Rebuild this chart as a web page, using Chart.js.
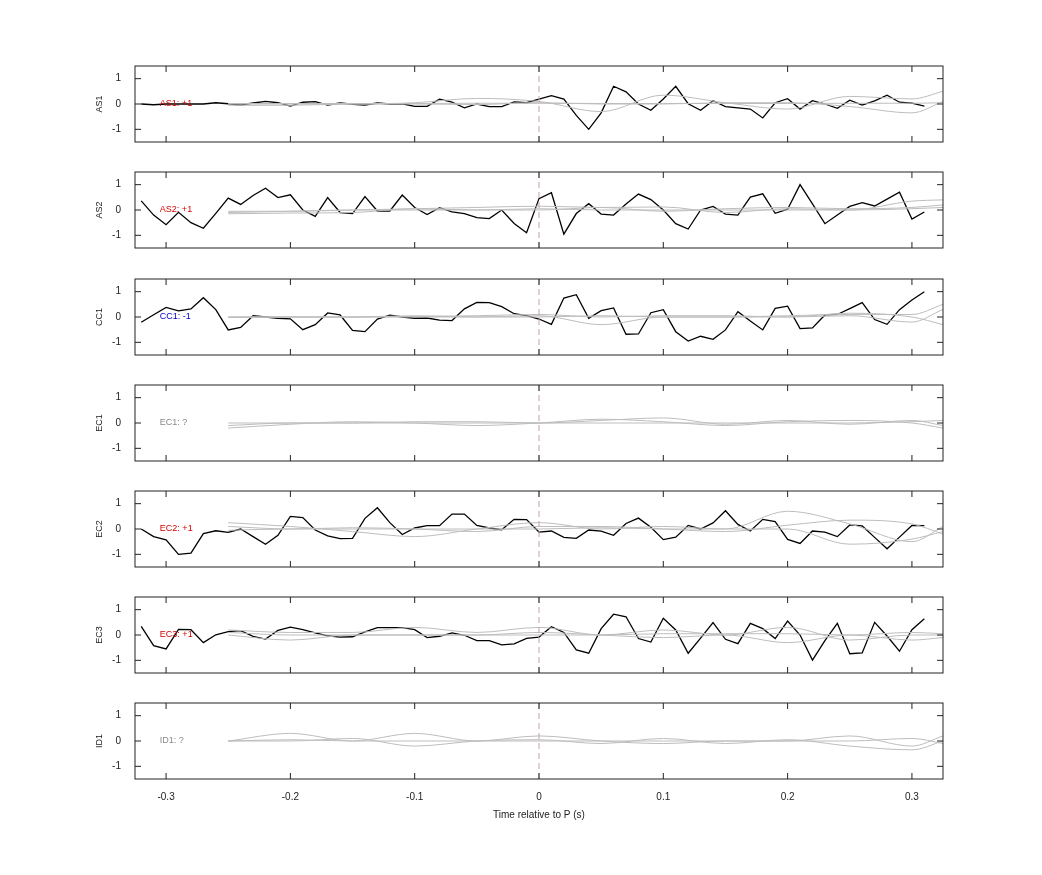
<!DOCTYPE html>
<html>
<head>
<meta charset="utf-8">
<script src="https://cdn.jsdelivr.net/npm/chart.js@4"></script>
<style>
  body { margin: 0; background: #fff; }
  .panel { position: absolute; left: 60px; width: 900px; }
</style>
</head>
<body>
<div id="wrap"></div>
<script>
// 시간축 (black traces, 0.01 s step)
const times = [-0.32,-0.31,-0.30,-0.29,-0.28,-0.27,-0.26,-0.25,-0.24,-0.23,-0.22,-0.21,-0.20,-0.19,-0.18,-0.17,
  -0.16,-0.15,-0.14,-0.13,-0.12,-0.11,-0.10,-0.09,-0.08,-0.07,-0.06,-0.05,-0.04,-0.03,-0.02,-0.01,
  0.00,0.01,0.02,0.03,0.04,0.05,0.06,0.07,0.08,0.09,0.10,0.11,0.12,0.13,0.14,0.15,
  0.16,0.17,0.18,0.19,0.20,0.21,0.22,0.23,0.24,0.25,0.26,0.27,0.28,0.29,0.30,0.31];
// grey template times
const greyTimes = [-0.25,-0.2,-0.15,-0.1,-0.05,0,0.05,0.1,0.15,0.2,0.25,0.3,0.325];

const channels = ["AS1","AS2","CC1","EC1","EC2","EC3","ID1"];
const polarity = ["+1","+1","-1","?","+1","+1","?"];
const xTicks = [-0.3,-0.2,-0.1,0,0.1,0.2,0.3];

const as1 = [0,-0.03,0,0,0,0,0.05,0.01,-0.04,0.04,0.1,0.05,-0.08,0.07,0.09,-0.04,
  0.04,-0.01,-0.04,0.04,0,0.01,-0.09,-0.09,0.19,0.07,-0.15,0,-0.1,-0.1,0.08,0.05,
  0.19,0.33,0.19,-0.45,-1.0,-0.35,0.7,0.48,0,-0.25,0.2,0.7,0.01,-0.25,0.13,-0.1,
  -0.15,-0.2,-0.55,0.05,0.21,-0.2,0.13,0,-0.17,0.15,-0.04,0.12,0.35,0.07,0.03,-0.08];
const as2 = [0.36,-0.2,-0.58,-0.09,-0.5,-0.72,-0.13,0.47,0.22,0.57,0.86,0.49,0.6,0,-0.25,0.49,
  -0.1,-0.14,0.53,-0.04,-0.04,0.59,0.1,-0.18,0.09,-0.07,-0.14,-0.3,-0.34,0,-0.53,-0.9,
  0.45,0.68,-0.95,-0.14,0.25,-0.16,-0.2,0.24,0.63,0.41,0,-0.54,-0.75,0,0.14,-0.16,
  -0.2,0.51,0.64,-0.13,0.03,1.0,0.24,-0.54,-0.2,0.14,0.29,0.16,0.43,0.7,-0.36,-0.08];
const cc1 = [-0.21,0.09,0.38,0.24,0.32,0.76,0.29,-0.51,-0.41,0.05,0,-0.05,-0.07,-0.5,-0.3,0.16,
  0.08,-0.53,-0.58,-0.08,0.07,0,-0.05,-0.04,-0.12,-0.14,0.32,0.58,0.57,0.41,0.13,0.05,
  -0.08,-0.29,0.75,0.88,-0.05,0.25,0.36,-0.68,-0.67,0.17,0.29,-0.58,-0.95,-0.76,-0.88,-0.51,
  0.21,-0.16,-0.51,0.34,0.43,-0.46,-0.43,0.08,0.1,0.33,0.57,-0.1,-0.29,0.29,0.67,1.0];
const ec2 = [0,-0.3,-0.43,-1.0,-0.95,-0.18,-0.07,-0.13,0,-0.3,-0.6,-0.25,0.5,0.45,-0.04,-0.27,
  -0.38,-0.37,0.42,0.84,0.25,-0.22,0.04,0.13,0.13,0.59,0.59,0.14,0.04,-0.03,0.38,0.37,
  -0.12,-0.08,-0.33,-0.37,-0.04,-0.08,-0.25,0.22,0.43,0.07,-0.42,-0.32,0.14,0,0.24,0.72,
  0.18,-0.08,0.38,0.29,-0.41,-0.57,-0.08,-0.12,-0.3,0.16,0.12,-0.33,-0.78,-0.32,0.14,0.13];
const ec3 = [0.34,-0.42,-0.55,0.22,0.21,-0.3,0.01,0.13,0.17,-0.05,-0.16,0.18,0.31,0.21,0.08,-0.03,
  -0.08,-0.07,0.12,0.29,0.29,0.29,0.21,-0.1,-0.05,0.08,-0.01,-0.22,-0.22,-0.39,-0.35,-0.13,
  -0.08,0.33,0.1,-0.59,-0.72,0.25,0.82,0.72,-0.14,-0.28,0.66,0.2,-0.72,-0.12,0.49,-0.17,
  -0.34,0.46,0.25,-0.14,0.55,0,-0.99,-0.22,0.46,-0.74,-0.71,0.5,-0.04,-0.64,0.21,0.64];
const blackSeries = [as1, as2, cc1, null, ec2, ec3, null];

// grey templates per channel
const greySeries = [
  [[0.02,0.02,0.02,0.02,0.03,0.03,0.02,0.02,0.02,0.02,0.03,0.03,0.05],
   [0,0,0,0.05,0.22,0.1,-0.3,0.35,0.05,-0.2,0.3,0.2,0.5],
   [-0.05,-0.05,0,0,-0.02,0.05,0,0,0.05,0.05,-0.1,-0.35,0.1]],
  [[-0.05,-0.05,0,0.05,0.1,0.15,0.1,0.12,-0.1,0.05,0,0.35,0.4],
   [-0.15,-0.12,-0.1,0.05,0,0,0.1,-0.05,0.05,0.1,0.05,0.1,0.2],
   [-0.1,-0.05,0,0,0,0.05,0,0,0,0,0,0.05,0.1]],
  [[0,0,0,0.02,0.05,0.1,0,0.05,0.05,0,0.15,0,-0.3],
   [-0.02,0,0,0.05,0,0.05,-0.3,0,0,0,0.05,-0.2,0.3],
   [0,0,0,0,0,0,0.05,0,0,0.05,0.1,0.1,0.5]],
  [[-0.2,-0.05,0.05,0,-0.1,0,0.15,0.05,-0.1,0.05,0.1,0,-0.2],
   [0,0,0,0.05,0.05,0,0.1,0.2,-0.05,0.1,-0.05,0.1,-0.1],
   [-0.1,0,0,0,0,0,0,0,0,0,0,0.05,0.1]],
  [[0.25,0.1,-0.1,-0.3,0,0.25,0,0.1,0,0.7,0.2,-0.5,0.1],
   [0.1,0,0.05,0,-0.1,0.1,0.1,0,-0.1,0.15,0.35,0.2,-0.2],
   [-0.05,0,0,0,0,0,0.05,0,0,0,-0.6,-0.4,-0.1]],
  [[0.2,0.1,0.1,0.3,0.1,0.3,0,0.2,0,0.3,-0.2,0,0],
   [0,-0.2,0,0,0,0.1,0,-0.1,0,-0.3,0,-0.2,-0.1],
   [0.1,0,0,0,0,0,0,0.05,0.05,0.05,0,0.1,0.05]],
  [[0,0.3,0,0.3,0,0.2,0,-0.1,0,0,0.2,-0.2,0.2],
   [0,0,0.1,-0.2,0,0.05,-0.1,0.1,-0.1,0.05,-0.2,-0.35,0],
   [0,0.05,0,0,0,0,0,0,0,0,0,0.1,-0.1]]
];

const labelColors = { "+1": "#d40000", "-1": "#0000cc", "?": "#888888" };
const panelTops = [66, 172, 279, 385, 491, 597, 703];
const panelH = 76;

// 패널 장식: 테두리, 안쪽 눈금, 0 점선, 채널 라벨
const decor = {
  id: "decor",
  afterDraw(chart, args, opts) {
    const { ctx, chartArea: a, scales } = chart;
    const x = scales.x, y = scales.y;
    ctx.save();
    ctx.strokeStyle = "#c9a0a0";
    ctx.lineWidth = 1;
    ctx.setLineDash([6, 4]);
    ctx.beginPath();
    ctx.moveTo(x.getPixelForValue(0), a.top);
    ctx.lineTo(x.getPixelForValue(0), a.bottom);
    ctx.stroke();
    ctx.setLineDash([]);
    ctx.strokeStyle = "#222";
    ctx.strokeRect(a.left, a.top, a.right - a.left, a.bottom - a.top);
    ctx.beginPath();
    xTicks.forEach(v => {
      const px = x.getPixelForValue(v);
      ctx.moveTo(px, a.top); ctx.lineTo(px, a.top + 6);
      ctx.moveTo(px, a.bottom); ctx.lineTo(px, a.bottom - 6);
    });
    [-1, 0, 1].forEach(v => {
      const py = y.getPixelForValue(v);
      ctx.moveTo(a.left, py); ctx.lineTo(a.left + 6, py);
      ctx.moveTo(a.right, py); ctx.lineTo(a.right - 6, py);
    });
    ctx.stroke();
    ctx.font = "9px 'Liberation Sans', Arial, sans-serif";
    ctx.fillStyle = labelColors[opts.pol];
    ctx.textBaseline = "middle";
    ctx.fillText(opts.name + ": " + opts.pol, x.getPixelForValue(-0.305), y.getPixelForValue(0));
    ctx.restore();
  }
};

const wrap = document.getElementById("wrap");
channels.forEach((name, i) => {
  const last = i === channels.length - 1;
  const div = document.createElement("div");
  div.className = "panel";
  div.style.top = (panelTops[i] - 12) + "px";
  const h = 12 + panelH + (last ? 46 : 12);
  div.style.height = h + "px";
  const cv = document.createElement("canvas");
  div.appendChild(cv);
  wrap.appendChild(div);

  const datasets = greySeries[i].map(g => ({
    data: greyTimes.map((t, k) => ({ x: t, y: g[k] })),
    borderColor: "#bdbdbd", borderWidth: 1, pointRadius: 0,
    cubicInterpolationMode: "monotone"
  }));
  if (blackSeries[i]) {
    datasets.push({
      data: times.map((t, k) => ({ x: t, y: blackSeries[i][k] })),
      borderColor: "#000", borderWidth: 1.3, pointRadius: 0, tension: 0
    });
  }

  new Chart(cv, {
    type: "line",
    data: { datasets },
    options: {
      responsive: true, maintainAspectRatio: false, animation: false,
      layout: { padding: { top: 6, right: 17, left: 30, bottom: last ? 0 : 2 } },
      plugins: { legend: { display: false }, tooltip: { enabled: false },
        decor: { name, pol: polarity[i] } },
      scales: {
        x: {
          type: "linear", min: -0.325, max: 0.325,
          display: last,
          grid: { display: false }, border: { display: false },
          afterBuildTicks: s => { s.ticks = xTicks.map(v => ({ value: v })); },
          afterFit: s => { s.height = last ? 46 : 0; },
          ticks: { color: "#222", font: { size: 10, family: "'Liberation Sans', Arial" },
            maxRotation: 0, padding: 4, callback: v => (Math.abs(v) < 1e-9 ? "0" : String(Math.round(v * 10) / 10)) },
          title: { display: true, text: "Time relative to P (s)", color: "#222",
            font: { size: 10, family: "'Liberation Sans', Arial" }, padding: { top: 8 } }
        },
        y: {
          min: -1.5, max: 1.5,
          grid: { display: false }, border: { display: false },
          afterBuildTicks: s => { s.ticks = [-1, 0, 1].map(v => ({ value: v })); },
          afterFit: s => { s.width = 45; },
          ticks: { color: "#222", font: { size: 10, family: "'Liberation Sans', Arial" }, padding: 6, autoSkip: false },
          title: { display: true, text: name, color: "#222",
            font: { size: 9, family: "'Liberation Sans', Arial" } }
        }
      }
    },
    plugins: [decor]
  });
});
</script>
</body>
</html>
